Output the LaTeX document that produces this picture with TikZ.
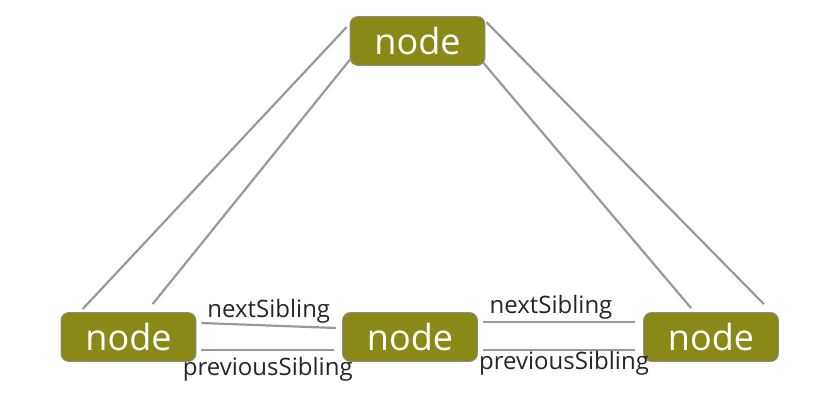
\documentclass[tikz,border=0pt]{standalone}
\usepackage{fontspec}
\setmainfont{Open Sans}
\usepackage{tikz}
\usetikzlibrary{positioning}
\definecolor{nodeolive}{RGB}{137,137,23}
\definecolor{boxgray}{RGB}{140,140,140}
\definecolor{linkgray}{RGB}{153,153,153}
\definecolor{lbltext}{RGB}{38,38,38}

\begin{document}
\begin{tikzpicture}[x=1pt,y=-1pt,line width=2.2pt,
  box/.style={draw=boxgray,line width=0.8pt,fill=nodeolive,rounded corners=8pt,
    minimum width=135pt,minimum height=49pt,inner sep=0pt,text=white,
    font=\fontsize{36}{36}\selectfont},
  link/.style={draw=linkgray},
  lbl/.style={text=lbltext,font=\fontsize{24}{24}\selectfont,inner sep=2pt}]
\useasboundingbox (0,0) rectangle (838,419);
\node[box] (top) at (417.5,41) {node};
\node[box] (left) at (128.5,337) {node};
\node[box] (mid) at (410,337) {node};
\node[box] (right) at (711,337) {node};

% parent links
\draw[link] ([shift={(-3,11)}]top.north west) -- ([shift={(22,-3)}]left.north west);
\draw[link] ([shift={(1,-7)}]top.south west) -- ([shift={(92,-8)}]left.north west);
\draw[link] ([shift={(1,6)}]top.north east) -- ([shift={(-15,-8)}]right.north east);
\draw[link] ([shift={(-2,-3)}]top.south east) -- ([shift={(48,-4)}]right.north west);

% sibling links
\draw[link] ([shift={(5,-14)}]left.east) -- node[lbl,above,yshift=-1pt] {nextSibling} ([shift={(-6,-9)}]mid.west);
\draw[link] ([shift={(5,13)}]left.east) -- node[lbl,below,yshift=-4pt] {previousSibling} ([shift={(-8,13)}]mid.west);
\draw[link] ([shift={(5,-15)}]mid.east) -- node[lbl,above,xshift=-8pt] {nextSibling} ([shift={(-8,-15)}]right.west);
\draw[link] ([shift={(5,13)}]mid.east) -- node[lbl,below,xshift=5pt,yshift=2pt] {previousSibling} ([shift={(-8,13)}]right.west);
\end{tikzpicture}
\end{document}
